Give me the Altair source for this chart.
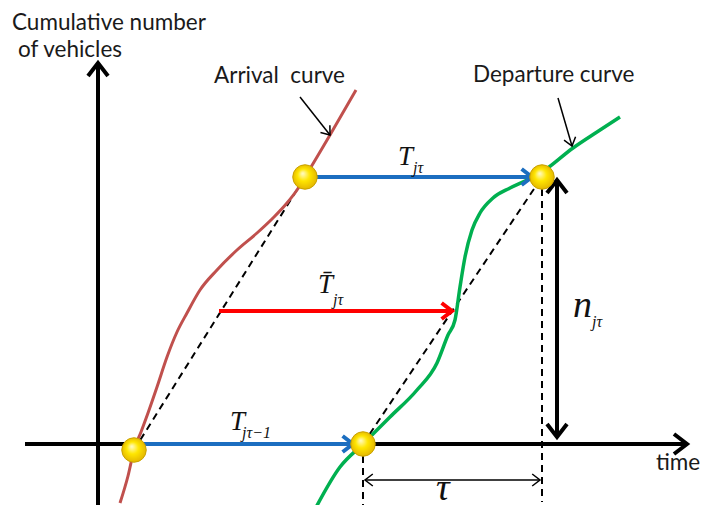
import math
import altair as alt
import pandas as pd

# ---- values (time t, cumulative count n; origin at the axes' crossing) ----
arr_t = [22, 30, 36, 43, 50, 59, 69, 79, 89, 102, 119, 139, 159, 175, 189, 199, 207, 232, 258]
arr_n = [-59, -32, -6, 12, 31, 57, 87, 112, 131, 154, 174, 194, 211, 226, 241, 254, 267, 309, 354]
dep_t = [215, 242, 265, 292, 319, 339, 350, 357, 362, 367, 374, 382, 395, 412, 429, 444, 475, 499, 522]
dep_n = [-69, -23, 0, 27, 54, 81, 109, 124, 157, 187, 214, 231, 246, 256, 264, 272, 296, 312, 327]

# key points (yellow dots)
pt_t = [36, 265, 207, 444]
pt_n = [-6, 0, 267, 267]

# dashed guide segments
dash_t1 = [36, 265, 265, 444]
dash_n1 = [-6, 0, 0, 267]
dash_t2 = [207, 444, 265, 444]
dash_n2 = [267, 267, -61, -58]

# arrows: start, end, colour, width, head size, double-headed
arw_name = ["yaxis", "xaxis", "T_top", "T_bot", "T_bar", "n", "tau", "p_arr", "p_dep"]
arw_t1 = [0, -73, 207, 36, 121, 459, 267, 202, 460]
arw_n1 = [-75, 0, 267, 0, 133, 264, -36, 347, 346]
arw_t2 = [0, 589, 434, 255, 354, 459, 442, 232, 474]
arw_n2 = [381, 0, 267, 0, 133, 7, -36, 309, 298]
arw_col = ["#000000", "#000000", "#1C6EC0", "#1C6EC0", "#FF0000", "#000000", "#000000", "#000000", "#000000"]
arw_w = [4, 4, 4, 4, 4, 4, 1.5, 1.5, 1.5]
arw_head = [400, 400, 256, 256, 256, 400, 144, 144, 144]
arw_double = [False, False, False, False, False, True, True, False, False]

# labels
sans_text = ["Cumulative number", "of vehicles", "Arrival\u00a0 curve", "Departure curve", "time"]
sans_t = [-86, -80, 116, 375, 558]
sans_n = [414, 387, 361, 362, -26]

math_text = ["T", "jτ", "T\u0304", "jτ", "T", "jτ\u22121", "n", "jτ", "τ"]
math_t = [300, 315, 220, 235, 132, 144, 475, 494, 338]
math_n = [279, 271, 151, 139, 14, 6, 127, 117, -56]
math_size = [27, 16, 27, 16, 27, 16, 38, 16, 38]

# ---- tables ----
arr_df = pd.DataFrame({"t": arr_t, "n": arr_n})
dep_df = pd.DataFrame({"t": dep_t, "n": dep_n})
pt_df = pd.DataFrame({"t": pt_t, "n": pt_n})
dash_df = pd.DataFrame({"t": dash_t1, "n": dash_n1, "t2": dash_t2, "n2": dash_n2})
arw_df = pd.DataFrame({"name": arw_name, "t": arw_t1, "n": arw_n1, "t2": arw_t2, "n2": arw_n2,
                       "color": arw_col, "w": arw_w})

W, H = 700, 497
XD = [-90, 610]
YD = [-61, 436]
sx = W / (XD[1] - XD[0])
sy = H / (YD[1] - YD[0])

heads = []
for i in range(len(arw_name)):
    dx = (arw_t2[i] - arw_t1[i]) * sx
    dy = -(arw_n2[i] - arw_n1[i]) * sy
    ang = math.degrees(math.atan2(dy, dx)) % 360
    heads.append({"t": arw_t2[i], "n": arw_n2[i], "angle": ang, "color": arw_col[i],
                  "w": arw_w[i], "size": arw_head[i]})
    if arw_double[i]:
        heads.append({"t": arw_t1[i], "n": arw_n1[i], "angle": (ang + 180) % 360,
                      "color": arw_col[i], "w": arw_w[i], "size": arw_head[i]})
head_df = pd.DataFrame(heads)

sans_df = pd.DataFrame({"text": sans_text, "t": sans_t, "n": sans_n})
math_df = pd.DataFrame({"text": math_text, "t": math_t, "n": math_n, "size": math_size})

xs = alt.Scale(domain=XD, nice=False, zero=False)
ys = alt.Scale(domain=YD, nice=False, zero=False)
X = alt.X("t:Q", scale=xs, axis=None)
Y = alt.Y("n:Q", scale=ys, axis=None)

dashed = alt.Chart(dash_df).mark_rule(color="black", strokeWidth=2, strokeDash=[7, 5]).encode(
    x=X, y=Y, x2="t2:Q", y2="n2:Q")

arrival = alt.Chart(arr_df).mark_line(color="#C0504D", strokeWidth=3, interpolate="monotone",
                                      clip=True).encode(x=X, y=Y)
departure = alt.Chart(dep_df).mark_line(color="#00B050", strokeWidth=3.5, interpolate="monotone",
                                        clip=True).encode(x=X, y=Y)

shafts = alt.Chart(arw_df).mark_rule().encode(
    x=X, y=Y, x2="t2:Q", y2="n2:Q",
    color=alt.Color("color:N", scale=None),
    strokeWidth=alt.StrokeWidth("w:Q", scale=None))

arrowheads = alt.Chart(head_df).mark_point(
    shape="M-1.3,-1L0,0L-1.3,1", filled=False, opacity=1, strokeJoin="miter", strokeCap="butt"
).encode(
    x=X, y=Y,
    angle=alt.Angle("angle:Q", scale=None),
    color=alt.Color("color:N", scale=None),
    size=alt.Size("size:Q", scale=None),
    strokeWidth=alt.StrokeWidth("w:Q", scale=None))

dot_fill = alt.RadialGradient(
    gradient="radial",
    stops=[alt.GradientStop(offset=0, color="#FFFBD0"),
           alt.GradientStop(offset=0.45, color="#FFE600"),
           alt.GradientStop(offset=1, color="#E0B000")],
    x1=0.4, y1=0.35, r1=0, x2=0.5, y2=0.5, r2=0.55)
dots = alt.Chart(pt_df).mark_point(
    shape="circle", size=600, filled=True, fill=dot_fill, opacity=1,
    stroke="#C9A200", strokeWidth=1).encode(x=X, y=Y)

sans = alt.Chart(sans_df).mark_text(
    font="Lato", fontSize=22.5, align="left", baseline="alphabetic", color="#1a1a1a").encode(
    x=X, y=Y, text="text:N")

maths = alt.Chart(math_df).mark_text(
    font="Liberation Serif, DejaVu Serif, serif", fontStyle="italic", align="left",
    baseline="alphabetic", color="#111111").encode(
    x=X, y=Y, text="text:N", size=alt.Size("size:Q", scale=None))

chart = alt.layer(dashed, arrival, departure, shafts, arrowheads, dots, sans, maths).properties(
    width=W, height=H, padding=0, background="white",
    autosize=alt.AutoSizeParams(type="none"),
).configure_view(stroke=None)

chart.save("out.html", embed_options={"renderer": "svg", "actions": False})
